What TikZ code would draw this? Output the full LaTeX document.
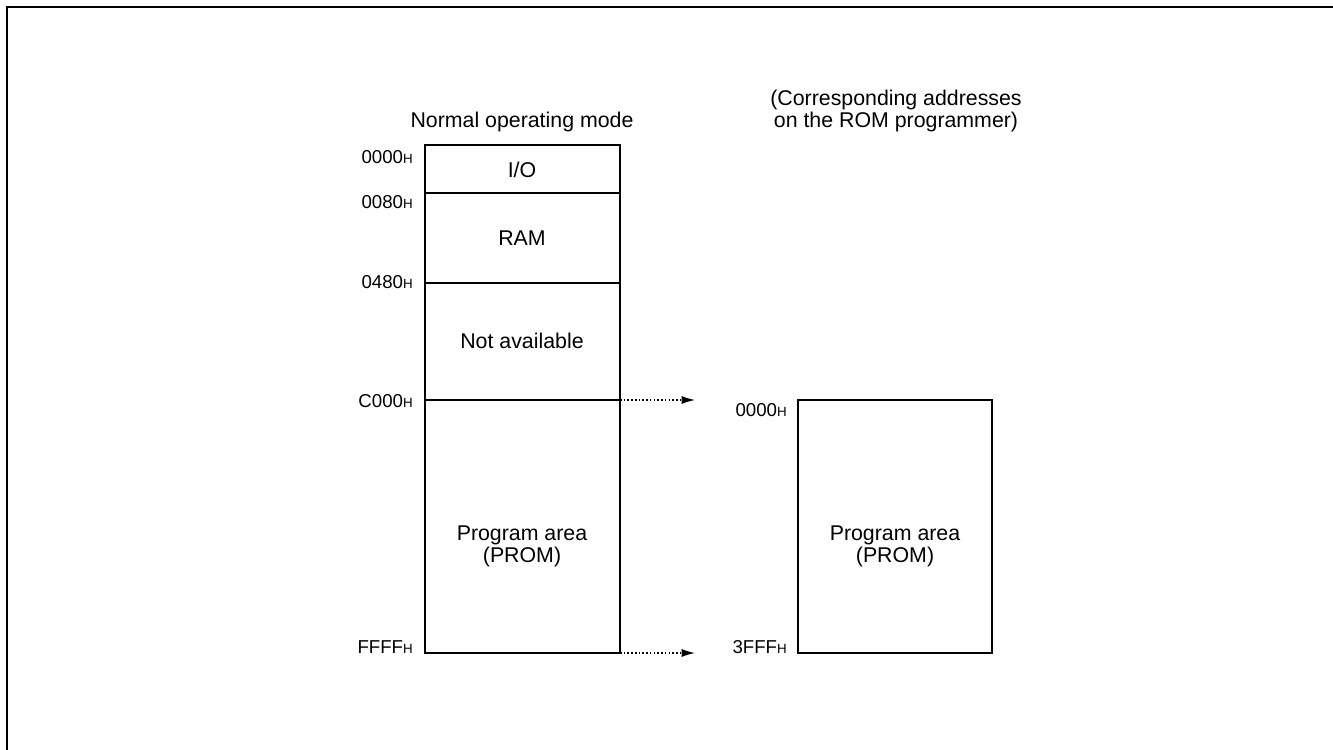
\documentclass[tikz,border=0pt]{standalone}
\usepackage{fontspec}
\setmainfont{Liberation Sans}
\usetikzlibrary{arrows.meta}
\newcommand{\hsuf}{{\fontsize{10}{10}\selectfont H}}
\begin{document}
\begin{tikzpicture}[x=0.75pt,y=-0.75pt,
  txt/.style={font=\fontsize{16}{16.5}\selectfont, align=center, inner sep=0pt},
  addr/.style={font=\fontsize{14}{16}\selectfont, anchor=base east, inner sep=0pt},
  outline/.style={line width=1.8pt},
  divider/.style={line width=0.8pt},
  frameline/.style={line width=2.2pt},
  maparrow/.style={line width=0.9pt, dash pattern=on 1.2pt off 1.6pt, -{Latex[length=10pt,width=6pt]}}
]
\useasboundingbox (0,0) rectangle (1333,749);
\begin{scope}
\clip (0,0) rectangle (1333,749);
\draw[frameline] (7,760) -- (7,7) -- (1345,7);
\end{scope}

% left memory map
\coordinate (ltl) at (425,145);
\coordinate (lbr) at (620,653);
\coordinate (d1l) at (425,193); \coordinate (d1r) at (620,193);
\coordinate (d2l) at (425,283); \coordinate (d2r) at (620,283);
\coordinate (d3l) at (425,400); \coordinate (d3r) at (620,400);
\coordinate (lbot) at (620,653);
\draw[divider] (d1l) -- (d1r);
\draw[divider] (d2l) -- (d2r);
\draw[divider] (d3l) -- (d3r);
\draw[outline] (ltl) rectangle (lbr);

% right memory map
\coordinate (rtl) at (798,400);
\coordinate (rbr) at (992,653);
\draw[outline] (rtl) rectangle (rbr);

% titles
\node[txt] (ttl) at (522,122) {Normal operating mode};
\node[txt] (ttr) at (896,111) {(Corresponding addresses\\on the ROM programmer)};

% area texts
\node[txt] (io) at (522,170) {I/O};
\node[txt] (ram) at (522,238) {RAM};
\node[txt] (na) at (522,341) {Not available};
\node[txt] (pl) at (522,546) {Program area\\(PROM)};
\node[txt] (pr) at (895,546) {Program area\\(PROM)};

% addresses
\node[addr] (a0) at (413,163) {0000\hsuf};
\node[addr] (a1) at (413,208) {0080\hsuf};
\node[addr] (a2) at (413,288) {0480\hsuf};
\node[addr] (a3) at (413,407) {C000\hsuf};
\node[addr] (a4) at (413,653) {FFFF\hsuf};
\node[addr] (b0) at (787,416) {0000\hsuf};
\node[addr] (b1) at (787,653) {3FFF\hsuf};

% mapping arrows
\coordinate (e1) at (695,400);
\coordinate (e2) at (695,653);
\draw[maparrow] (d3r) -- (e1);
\draw[maparrow] (lbot) -- (e2);
\end{tikzpicture}
\end{document}
